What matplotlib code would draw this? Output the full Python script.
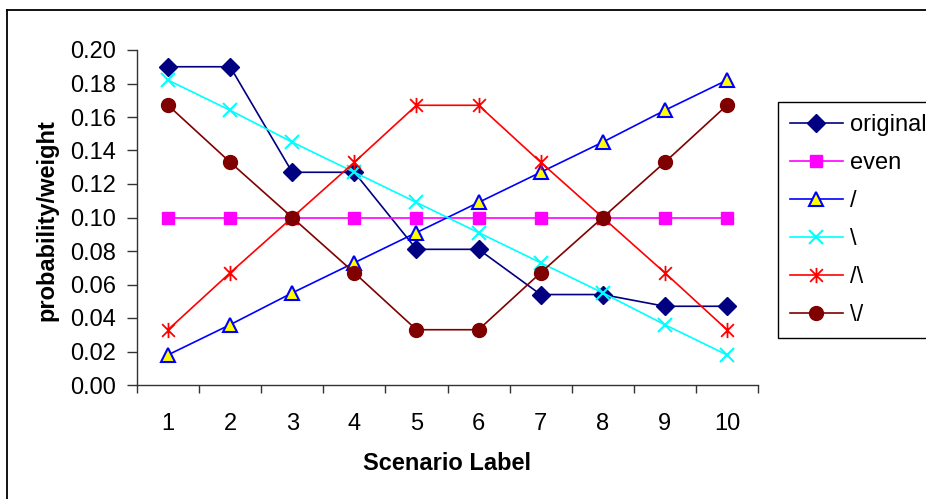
import numpy as np
import matplotlib.pyplot as plt
from matplotlib.path import Path
from matplotlib.lines import Line2D

plt.rcParams['font.family'] = ['Liberation Sans', 'DejaVu Sans']

scenarios = [1, 2, 3, 4, 5, 6, 7, 8, 9, 10]
original = [0.190, 0.190, 0.127, 0.127, 0.081, 0.081, 0.054, 0.054, 0.047, 0.047]
even = [0.100, 0.100, 0.100, 0.100, 0.100, 0.100, 0.100, 0.100, 0.100, 0.100]
rising = [0.018, 0.036, 0.055, 0.073, 0.091, 0.109, 0.127, 0.145, 0.164, 0.182]
falling = [0.182, 0.164, 0.145, 0.127, 0.109, 0.091, 0.073, 0.055, 0.036, 0.018]
peak = [0.033, 0.067, 0.100, 0.133, 0.167, 0.167, 0.133, 0.100, 0.067, 0.033]
valley = [0.167, 0.133, 0.100, 0.067, 0.033, 0.033, 0.067, 0.100, 0.133, 0.167]
labels = ['original', 'even', '/', '\\', '/\\', '\\/']
yticks = [0.00, 0.02, 0.04, 0.06, 0.08, 0.10, 0.12, 0.14, 0.16, 0.18, 0.20]

# asterisk marker: an x with a vertical stroke through it
star = Path([(-0.5, -0.5), (0.5, 0.5), (-0.5, 0.5), (0.5, -0.5), (0, -0.6), (0, 0.6)],
            [Path.MOVETO, Path.LINETO, Path.MOVETO, Path.LINETO, Path.MOVETO, Path.LINETO])

FS = 17
W, H = 926, 499
fig = plt.figure(figsize=(W / 100, H / 100), dpi=100)
ax = fig.add_axes([137 / W, 1 - 385 / H, (758 - 137) / W, (385 - 50) / H])

lw = 1.2
ax.plot(scenarios, original, color='#000080', lw=lw, marker='D', ms=9, label=labels[0])
ax.plot(scenarios, even, color='#FF00FF', lw=lw, marker='s', ms=8, label=labels[1])
ax.plot(scenarios, rising, color='#0000FF', lw=lw, marker='^', ms=10,
        mfc='#FFFF00', mec='#0000FF', mew=1.5, label=labels[2])
ax.plot(scenarios, falling, color='#00FFFF', lw=lw, marker='x', ms=10, mew=1.5, label=labels[3])
ax.plot(scenarios, peak, color='#FF0000', lw=lw, marker=star, ms=11, mew=1.3,
        mfc='none', mec='#FF0000', label=labels[4])
ax.plot(scenarios, valley, color='#800000', lw=lw, marker='o', ms=10, label=labels[5])

ax.set_xlim(0.5, 10.5)
ax.set_ylim(0, 0.20)
ax.set_xticks(np.arange(0.5, 11, 1.0))
ax.set_xticklabels([])
ax.set_xticks(scenarios, minor=True)
ax.set_xticklabels([str(s) for s in scenarios], minor=True, fontsize=FS)
ax.tick_params(axis='x', which='minor', length=0, pad=20)
ax.tick_params(axis='x', which='major', length=6, width=1, color='#333333', direction='out')
ax.set_yticks(yticks)
ax.set_yticklabels([f'{v:.2f}' for v in yticks], fontsize=FS)
ax.tick_params(axis='y', length=7, width=1, color='#333333', pad=8)

for side in ['top', 'right']:
    ax.spines[side].set_visible(False)
for side in ['left', 'bottom']:
    ax.spines[side].set_color('#333333')
    ax.spines[side].set_linewidth(1)

fig.text(447 / W, 1 - 464 / H, 'Scenario Label', fontsize=FS, fontweight='bold',
         ha='center', va='center')
fig.text(47 / W, 1 - 220 / H, 'probability/weight', fontsize=FS, fontweight='bold',
         ha='center', va='center', rotation=90)

leg = ax.legend(loc='upper left', bbox_to_anchor=(778 / W, 1 - 102 / H),
                bbox_transform=fig.transFigure, fontsize=FS, frameon=True,
                fancybox=False, edgecolor='black', framealpha=1,
                handlelength=2.25, handletextpad=0.3, labelspacing=0.68,
                borderpad=0.5, borderaxespad=0)
leg.get_frame().set_linewidth(1)

# outer chart border
fig.add_artist(Line2D([7 / W, 7 / W], [0, 1 - 10 / H], transform=fig.transFigure,
                      color='black', lw=1.3))
fig.add_artist(Line2D([7 / W, 1], [1 - 10 / H, 1 - 10 / H], transform=fig.transFigure,
                      color='black', lw=1.3))

fig.savefig('out.png', dpi=100)
